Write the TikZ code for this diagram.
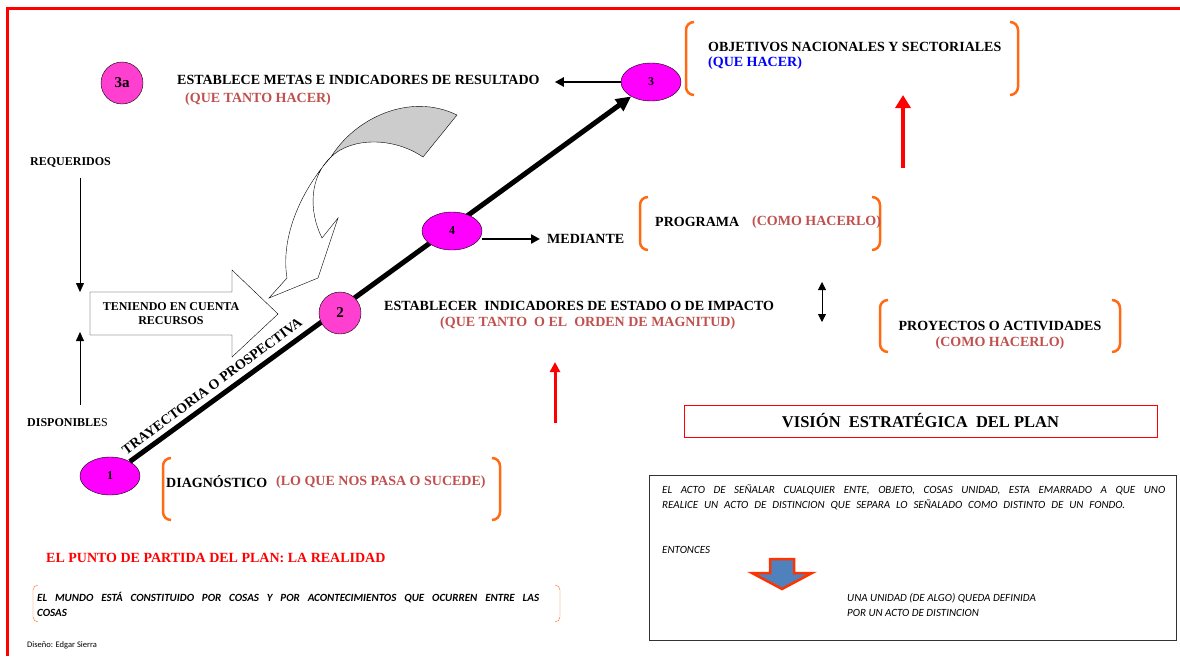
\documentclass[tikz,border=0pt]{standalone}
\usepackage{fontspec}
\setmainfont{Liberation Serif}
\newfontfamily\calfont{Carlito}
\usetikzlibrary{arrows.meta,shapes.geometric}
\definecolor{fucsia}{HTML}{FF00FF}
\definecolor{rosa}{HTML}{FF3FD0}
\definecolor{ladrillo}{HTML}{C0504D}
\definecolor{naranja}{HTML}{FF6A13}
\definecolor{azulflecha}{HTML}{4F81BD}
\definecolor{rojoflecha}{HTML}{FF3300}

\begin{document}
\begin{tikzpicture}[x=1pt,y=-1pt,
    punto/.style={ellipse,draw,fill=fucsia,minimum width=60pt,minimum height=38pt,inner sep=0pt,font=\bfseries\fontsize{12}{14}\selectfont},
    circulo/.style={circle,draw,fill=rosa,minimum size=42pt,inner sep=0pt,font=\bfseries\fontsize{15}{17}\selectfont},
    rotulo/.style={anchor=west,inner sep=0pt,font=\bfseries\fontsize{14}{16}\selectfont},
    menor/.style={rotulo,font=\bfseries\fontsize{12}{14}\selectfont},
    nota/.style={rotulo,text=ladrillo},
    corchete/.style={naranja,line width=2.5pt,rounded corners=8pt},
    cursiva/.style={anchor=west,inner sep=0pt,font=\calfont\itshape\fontsize{11}{13}\selectfont}]
                \useasboundingbox (0,0) rectangle (1180,656);
                \draw[red,line width=3pt] (7,656) -- (7,8) -- (1180,8);
                % trayectoria
                \node[punto] (n1) at (110,476) {1};
                \node[punto] (n3) at (651,82) {3};
                \draw[line width=5pt,-{Triangle[length=15pt,width=14pt]}] (n1) -- (n3);
                \node[circulo] (n2) at (340,313) {2};
                \node[punto] (n4) at (452,231) {4};
                \node[circulo] (n3a) at (122,83) {3a};
                \node[rotate=36.5,inner sep=0pt,font=\bfseries\fontsize{14}{16}\selectfont] (trayectoria) at (212,386) {TRAYECTORIA O PROSPECTIVA};
                % metas
                \node[rotulo] (metas) at (177,80) {ESTABLECE METAS E INDICADORES DE RESULTADO};
                \node[nota] (metasq) at (185,99) {(QUE TANTO HACER)};
                \draw[line width=2.5pt,shorten >=15pt,-{Triangle[length=9pt,width=9pt]}] (n3.west) -- (n3.west -| metas.east);
                % objetivos
                \draw[corchete] (694,22) -- (686,22) -- (686,95) -- (694,95);
                \draw[corchete] (1010,22) -- (1018,22) -- (1018,95) -- (1010,95);
                \node[rotulo] (objetivos) at (708,47) {OBJETIVOS NACIONALES Y SECTORIALES};
                \node[rotulo,text=blue] (quehacer) at (708,63) {(QUE HACER)};
                \coordinate (r1) at (903,168);
                \coordinate (r2) at (903,95);
                \draw[red,line width=4.5pt,-{Triangle[length=13pt,width=15pt]}] (r1) -- (r2);
                % recursos
                \node[menor] (requeridos) at (30,162) {REQUERIDOS};
                \node[menor] (disponibles) at (27,423) {DISPONIBLE{\mdseries S}};
                \coordinate (req) at (80,178);
                \coordinate (reqf) at (80,292);
                \coordinate (disp) at (80,405);
                \coordinate (dispf) at (80,332);
                \draw[-{Triangle[length=9pt,width=8pt]}] (req) -- (reqf);
                \draw[-{Triangle[length=9pt,width=8pt]}] (disp) -- (dispf);
                \draw[fill=white] (90,292) -- (232,292) -- (232,270) -- (278,314) -- (232,357) -- (232,335) -- (90,335) -- cycle;
                \node[menor,anchor=center,align=center] (recursos) at (171,314) {TENIENDO EN CUENTA\\RECURSOS};
                % flecha curva
                \draw[fill=gray!40] (331,157) .. controls (355,118) and (410,92) .. (457,115) -- (423,157) .. controls (392,136) and (350,138) .. cycle;
                \draw[fill=white] (331,157) .. controls (303,188) and (280,235) .. (287,278) -- (269,298) -- (318,278) -- (338,218) -- (322,238) .. controls (308,210) and (310,176) .. cycle;
                % programa
                \node[rotulo] (mediante) at (547,239) {MEDIANTE};
                \draw[line width=2.5pt,shorten >=7pt,-{Triangle[length=9pt,width=9pt]}] (n4.east |- mediante.west) -- (mediante.west);
                \draw[corchete] (648,197) -- (640,197) -- (640,250) -- (648,250);
                \draw[corchete] (872,197) -- (880,197) -- (880,250) -- (872,250);
                \node[rotulo] (programa) at (655,222) {PROGRAMA};
                \node[nota] (programaq) at (752,222) {(COMO HACERLO)};
                \coordinate (da) at (822,282);
                \coordinate (db) at (822,322);
                \draw[line width=0.8pt,{Triangle[length=8pt,width=8pt]}-{Triangle[length=8pt,width=8pt]}] (da) -- (db);
                \draw[corchete] (888,300) -- (880,300) -- (880,352) -- (888,352);
                \draw[corchete] (1112,300) -- (1120,300) -- (1120,352) -- (1112,352);
                \node[rotulo,anchor=center] (proyectos) at (1000,326) {PROYECTOS O ACTIVIDADES};
                \node[nota,anchor=center] (proyectosq) at (1000,343) {(COMO HACERLO)};
                % indicadores
                \node[rotulo] (indicadores) at (384,306) {ESTABLECER\ \ INDICADORES DE ESTADO O DE IMPACTO};
                \node[nota] (magnitud) at (440,323) {(QUE TANTO\ \ O EL\ \ ORDEN DE MAGNITUD)};
                \coordinate (s1) at (555,423);
                \coordinate (s2) at (555,362);
                \draw[red,line width=3pt,-{Triangle[length=10pt,width=10pt]}] (s1) -- (s2);
                \node[draw=red,minimum width=473pt,minimum height=32pt,inner sep=0pt,font=\bfseries\fontsize{16.5}{18}\selectfont] (vision) at (920.5,421) {VISIÓN\ \ ESTRATÉGICA\ \ DEL PLAN};
                % diagnostico
                \draw[corchete] (171,458) -- (163,458) -- (163,520) -- (171,520);
                \draw[corchete] (492,458) -- (500,458) -- (500,520) -- (492,520);
                \node[rotulo] (diagnostico) at (166,482) {DIAGNÓSTICO};
                \node[nota] (diagnosticoq) at (276,482) {(LO QUE NOS PASA O SUCEDE)};
                \node[rotulo,text=red] (partida) at (46,558) {EL PUNTO DE PARTIDA DEL PLAN: LA REALIDAD};
                \draw[naranja,rounded corners=5pt] (38,585) -- (33,585) -- (33,622) -- (38,622);
                \draw[naranja,rounded corners=5pt] (555,585) -- (560,585) -- (560,622) -- (555,622);
                \node[cursiva,font=\calfont\bfseries\itshape\fontsize{11}{13}\selectfont] (mundo1) at (37,598) {\makebox[502pt][s]{EL MUNDO ESTÁ CONSTITUIDO POR COSAS Y POR ACONTECIMIENTOS QUE OCURREN ENTRE LAS}};
                \node[cursiva,font=\calfont\bfseries\itshape\fontsize{11}{13}\selectfont] (mundo2) at (37,613) {COSAS};
                \node[anchor=west,inner sep=0pt,font=\calfont\fontsize{8.5}{10}\selectfont] (autor) at (27,645) {Diseño: Edgar Sierra};
                % distincion
                \draw[black!80,line width=1pt] (649,475) rectangle (1176,640);
                \node[cursiva] (acto1) at (662,490) {\makebox[503pt][s]{EL ACTO DE SEÑALAR CUALQUIER ENTE, OBJETO, COSAS UNIDAD, ESTA EMARRADO A QUE UNO}};
                \node[cursiva] (acto2) at (662,505) {\makebox[463pt][s]{REALICE UN ACTO DE DISTINCION QUE SEPARA LO SEÑALADO COMO DISTINTO DE UN FONDO.}};
                \node[cursiva] (entonces) at (662,550) {ENTONCES};
                \draw[rojoflecha,fill=azulflecha,line width=2.5pt,line join=miter] (770,559) -- (794,559) -- (794,573) -- (812,573) -- (782,589) -- (752,573) -- (770,573) -- cycle;
                \node[cursiva] (unidad1) at (847,598) {UNA UNIDAD (DE ALGO) QUEDA DEFINIDA};
                \node[cursiva] (unidad2) at (847,613) {POR UN ACTO DE DISTINCION};
\end{tikzpicture}
\end{document}
